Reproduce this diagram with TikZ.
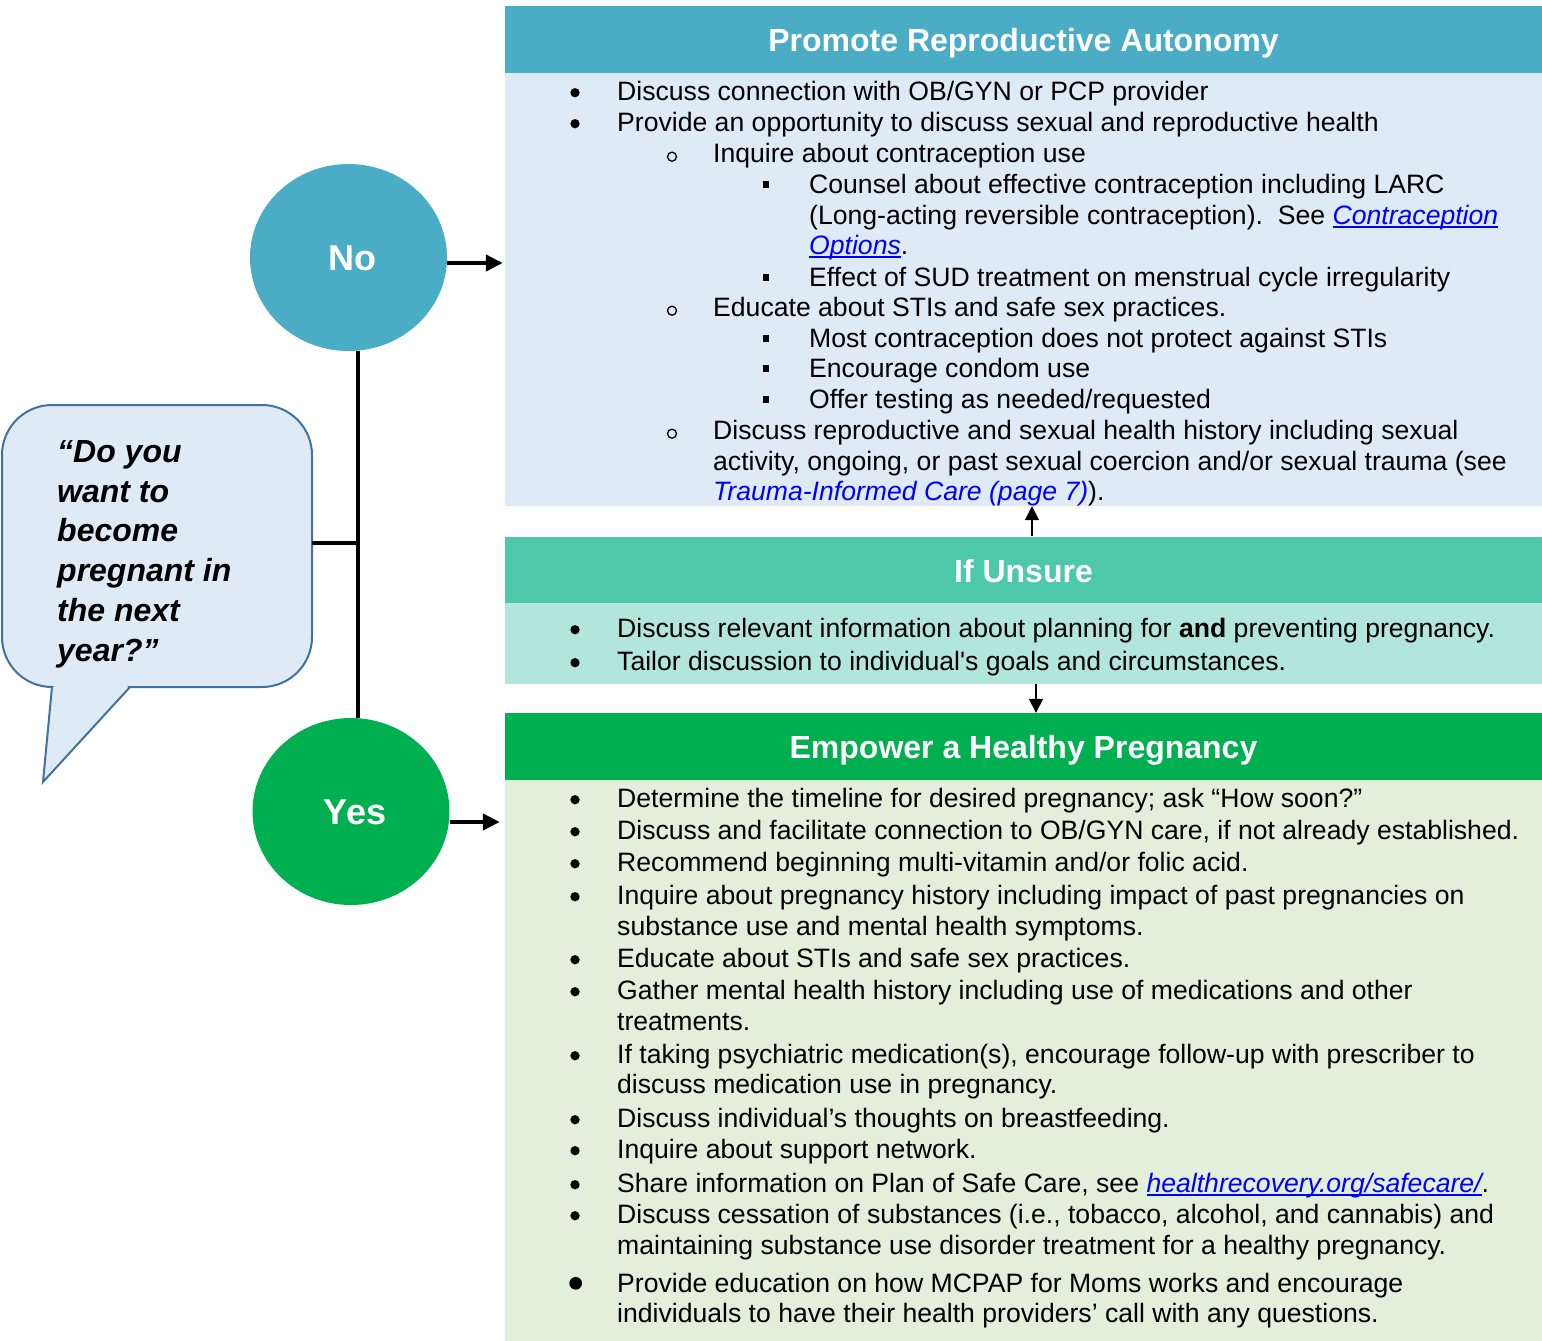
\documentclass[tikz,border=0pt]{standalone}
\usepackage{fontspec}
\setmainfont{Liberation Sans}
\usetikzlibrary{arrows.meta,shapes.geometric}
\definecolor{hblue}{HTML}{4BACC6}
\definecolor{bblue}{HTML}{DEEAF6}
\definecolor{hteal}{HTML}{4DC8AB}
\definecolor{bteal}{HTML}{B3E6DA}
\definecolor{hgreen}{HTML}{00B050}
\definecolor{bgreen}{HTML}{E2EFDA}
\definecolor{bubfill}{HTML}{DEEBF7}
\definecolor{bubline}{HTML}{41719C}
\definecolor{linkblue}{HTML}{0000FF}
\newcommand\ulink[1]{\setbox0\hbox{#1}\rlap{\rule[-3.5pt]{\wd0}{1.6pt}}\box0}
\newcommand\lnk[1]{\textcolor{linkblue}{\itshape #1}}
\newcommand\straightq{{\addfontfeatures{Ligatures=TeXOff}'}}
\newcommand\BulA[3]{\node[txt] (#1) at (617,#2) {#3}; \node[dot] (#1-b) at (575,{#2-7.3}) {};}
\newcommand\BulAbig[3]{\node[txt] (#1) at (617,#2) {#3}; \node[bigdot] (#1-b) at (575.7,{#2-8.7}) {};}
\newcommand\BulB[3]{\node[txt] (#1) at (713,#2) {#3}; \node[ring] (#1-b) at (672,{#2-5.3}) {};}
\newcommand\BulC[3]{\node[txt] (#1) at (809,#2) {#3}; \node[sq] (#1-b) at (766,{#2-8.7}) {};}
\newcommand\Cont[4]{\node[txt] (#1) at (#2,#3) {#4};}
\begin{document}
\begin{tikzpicture}[x=1pt,y=-1pt,
  txt/.style={anchor=base west, inner sep=0pt, font=\fontsize{26.6}{31}\selectfont},
  dot/.style={circle, fill=black, inner sep=0pt, minimum size=9.3pt},
  bigdot/.style={circle, fill=black, inner sep=0pt, minimum size=12.7pt},
  ring/.style={circle, draw=black, line width=1.3pt, inner sep=0pt, minimum size=9pt},
  sq/.style={rectangle, fill=black, inner sep=0pt, minimum width=6.5pt, minimum height=6.5pt},
  hdr/.style={minimum width=1037pt, minimum height=66.5pt, inner sep=0pt, text=white, font=\fontsize{32}{38}\selectfont\bfseries},
  panel/.style={minimum width=1037pt, inner sep=0pt},
  circ/.style={ellipse, minimum width=197pt, minimum height=187pt, inner sep=0pt, text=white, font=\fontsize{36}{40}\selectfont\bfseries, text height=25.8pt, text depth=0pt},
  conn/.style={line width=4.5pt},
  bigarrow/.style={line width=4.5pt, -{Triangle[length=17pt,width=16pt]}},
  thinarrow/.style={line width=1.5pt, -{Triangle[length=14pt,width=14pt]}},
  bubble/.style={fill=bubfill, draw=bubline, line width=2pt}]
\useasboundingbox (0,0) rectangle (1542,1341);

% panels
\node[panel, fill=bblue, minimum height=433.5pt] (b1) at (1023.5,289.25) {};
\node[hdr, fill=hblue, text height=24.5pt, text depth=0pt] (h1) at (1023.5,39.25) {Promote Reproductive Autonomy};
\node[panel, fill=bteal, minimum height=81pt] (b2) at (1023.5,643.5) {};
\node[hdr, fill=hteal, text height=25.5pt, text depth=0pt] (h2) at (1023.5,569.75) {If Unsure};
\node[panel, fill=bgreen, minimum height=561pt] (b3) at (1023.5,1060.5) {};
\node[hdr, fill=hgreen, minimum height=67pt, text height=24pt, text depth=0pt] (h3) at (1023.5,746.5) {Empower a Healthy Pregnancy};

% circles
\node[circ, fill=hblue] (no) at (348.5,257.5) {\hspace*{8pt}No};
\node[circ, fill=hgreen] (yes) at (351,811.5) {\hspace*{8pt}Yes};

% speech bubble
\filldraw[bubble, rounded corners=50pt] (2,405) rectangle (312,687);
\filldraw[bubble] (52,687) -- (43,782) -- (130,687);
\fill[bubfill] (54,685) -- (128,685) -- (126.5,689.5) -- (54.5,689.5) -- cycle;
\node[anchor=north west, inner sep=0pt, align=left, font=\fontsize{32}{39.8}\selectfont\bfseries\itshape] (q) at (57,440) {“Do you\\want to\\become\\pregnant in\\the next\\year?”};

% connectors
\coordinate (jn) at (358,543);
\coordinate (bubE) at (312,543);
\draw[conn] (jn |- no.south) -- (jn |- yes.north);
\draw[conn] (bubE) -- (jn);
\draw[bigarrow, shorten >=2pt] (no.east |- 0,263) -- (b1.west |- 0,263);
\draw[bigarrow, shorten >=5pt] (yes.east |- 0,822) -- (b3.west |- 0,822);
\draw[thinarrow] (1032,0 |- h2.north) -- (1032,0 |- b1.south);
\draw[thinarrow] (1036,0 |- b2.south) -- (1036,0 |- h3.north);

% box 1 text
\BulA{a1}{100}{Discuss connection with OB/GYN or PCP provider}
\BulA{a2}{131}{Provide an opportunity to discuss sexual and reproductive health}
\BulB{a3}{162}{Inquire about contraception use}
\BulC{a4}{193}{Counsel about effective contraception including LARC}
\Cont{a5}{809}{224}{(Long-acting reversible contraception).\ \ See \lnk{\ulink{Contraception}}}
\Cont{a6}{809}{254}{\lnk{\ulink{Options}}.}
\BulC{a7}{286}{Effect of SUD treatment on menstrual cycle irregularity}
\BulB{a8}{316}{Educate about STIs and safe sex practices.}
\BulC{a9}{347}{Most contraception does not protect against STIs}
\BulC{a10}{377}{Encourage condom use}
\BulC{a11}{408}{Offer testing as needed/requested}
\BulB{a12}{439}{Discuss reproductive and sexual health history including sexual}
\Cont{a13}{713}{470}{activity, ongoing, or past sexual coercion and/or sexual trauma (see}
\Cont{a14}{713}{500}{\lnk{Trauma-Informed Care (page 7)}).}

% box 2 text
\BulA{u1}{637}{Discuss relevant information about planning for \textbf{and} preventing pregnancy.}
\BulA{u2}{670}{Tailor discussion to individual\straightq s goals and circumstances.}

% box 3 text
\BulA{e1}{807}{Determine the timeline for desired pregnancy; ask “How soon?”}
\BulA{e2}{839}{Discuss and facilitate connection to OB/GYN care, if not already established.}
\BulA{e3}{871}{Recommend beginning multi-vitamin and/or folic acid.}
\BulA{e4}{904}{Inquire about pregnancy history including impact of past pregnancies on}
\Cont{e5}{617}{935}{substance use and mental health symptoms.}
\BulA{e6}{967}{Educate about STIs and safe sex practices.}
\BulA{e7}{999}{Gather mental health history including use of medications and other}
\Cont{e8}{617}{1030}{treatments.}
\BulA{e9}{1063}{If taking psychiatric medication(s), encourage follow-up with prescriber to}
\Cont{e10}{617}{1093}{discuss medication use in pregnancy.}
\BulA{e11}{1127}{Discuss individual’s thoughts on breastfeeding.}
\BulA{e12}{1158}{Inquire about support network.}
\BulA{e13}{1192}{Share information on Plan of Safe Care, see \lnk{\ulink{healthrecovery.org/safecare/}}.}
\BulA{e14}{1223}{Discuss cessation of substances (i.e., tobacco, alcohol, and cannabis) and}
\Cont{e15}{617}{1254}{maintaining substance use disorder treatment for a healthy pregnancy.}
\BulAbig{e16}{1292}{Provide education on how MCPAP for Moms works and encourage}
\Cont{e17}{617}{1322}{individuals to have their health providers’ call with any questions.}
\end{tikzpicture}
\end{document}
